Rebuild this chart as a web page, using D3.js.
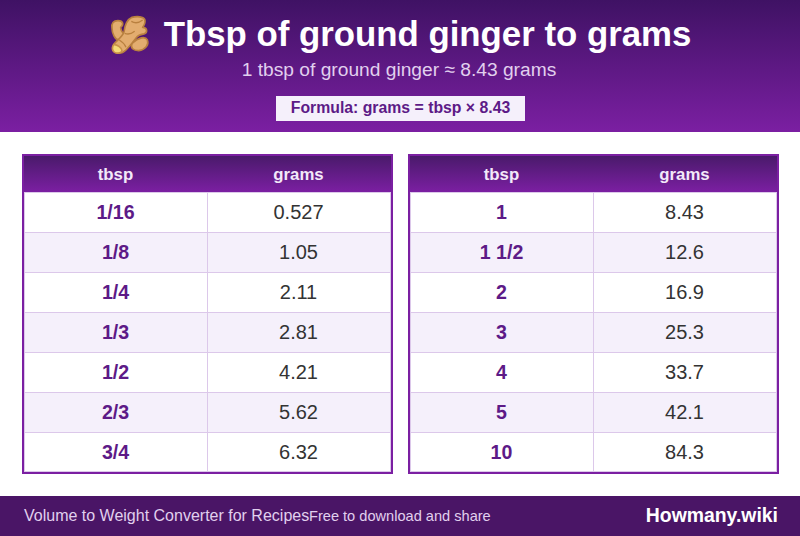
<!DOCTYPE html>
<html><head><meta charset="utf-8">
<script src="https://cdn.jsdelivr.net/npm/d3@7"></script>
<style>html,body{margin:0;padding:0;background:#fff}svg{display:block}text{font-family:"Liberation Sans",Arial,sans-serif}</style>
</head><body><svg id="c" width="800" height="536"></svg>
<script>
const titleText = "Tbsp of ground ginger to grams";
const subtitleText = "1 tbsp of ground ginger ≈ 8.43 grams";
const formulaText = "Formula: grams = tbsp × 8.43";
const columns = ["tbsp", "grams"];
const leftTbsp = ["1/16","1/8","1/4","1/3","1/2","2/3","3/4"];
const leftGrams = ["0.527","1.05","2.11","2.81","4.21","5.62","6.32"];
const rightTbsp = ["1","1 1/2","2","3","4","5","10"];
const rightGrams = ["8.43","12.6","16.9","25.3","33.7","42.1","84.3"];
const footerLeft = "Volume to Weight Converter for Recipes";
const footerMid = "Free to download and share";
const footerBrand = "Howmany.wiki";

const svg = d3.select("#c");
const defs = svg.append("defs");
function grad(id, a, b){
  const g = defs.append("linearGradient").attr("id",id).attr("x1",0).attr("y1",0).attr("x2",0).attr("y2",1);
  g.append("stop").attr("offset","0%").attr("stop-color",a);
  g.append("stop").attr("offset","100%").attr("stop-color",b);
}
grad("hdr0","#3f1264","#7b1fa2");
grad("th","#4a1a6b","#7b1fa2");

svg.append("rect").attr("width",800).attr("height",132).attr("fill","url(#hdr0)");

// ginger icon (viewBox is the 3x zoom of the region starting at x=90, y=0)
const ic = svg.append("g").attr("transform","translate(90,0) scale(0.3333)");
const st = {fill:"#e3ad6f",stroke:"#b9803f","stroke-width":5,"stroke-linejoin":"round"};
function p(d, o){ const e = ic.append("path").attr("d",d); Object.entries(Object.assign({},st,o||{})).forEach(([k,v])=>e.attr(k,v)); return e; }
p("M88 122 C74 118 66 100 66 84 C64 70 70 62 84 62 C100 62 102 74 92 82 C92 92 98 100 108 106 Z");
p("M126 130 C146 112 166 108 172 120 C178 134 166 150 146 152 C130 152 120 144 126 130 Z");
p("M72 132 C84 118 96 112 102 96 C104 80 108 60 126 52 C142 48 160 50 164 58 C168 68 162 76 158 82 C172 82 174 98 162 102 C150 104 146 104 140 112 C130 126 120 138 108 150 C94 164 76 162 70 150 C67 143 68 138 72 132 Z");
p("M71 134 C80 132 96 144 96 152 C94 160 78 162 72 156 C66 150 66 142 71 134 Z",{fill:"#f5dc78",stroke:"#c9924a"});
["M104 100 C114 104 124 102 134 94","M88 120 C98 126 104 132 108 142","M124 64 C134 70 148 68 158 60"].forEach(d=>p(d,{fill:"none","stroke-width":4}));

svg.append("text").attr("x",427.5).attr("y",46).attr("text-anchor","middle")
  .attr("font-size",34.8).attr("font-weight",700).attr("fill","#fff").text(titleText);
svg.append("text").attr("x",399).attr("y",76).attr("text-anchor","middle")
  .attr("font-size",19.2).attr("fill","#e1d0ee").text(subtitleText);
svg.append("rect").attr("x",276).attr("y",96).attr("width",249).attr("height",25).attr("fill","#f5f0fb");
svg.append("text").attr("x",400.5).attr("y",113).attr("text-anchor","middle")
  .attr("font-size",15.8).attr("font-weight",700).attr("fill","#5d1a87").text(formulaText);

function drawTable(x0, tbsp, grams){
  const rows = d3.range(tbsp.length);
  const y = d3.scaleBand().domain(rows).range([192.5,472.5]);
  const xs = d3.scaleBand().domain(columns).range([x0+2, x0+368]);
  const g = svg.append("g");
  g.append("rect").attr("x",x0+2).attr("y",156).attr("width",367).attr("height",36).attr("fill","url(#th)");
  g.selectAll("text.h").data(columns).join("text").attr("class","h")
    .attr("x",c=>xs(c)+xs.bandwidth()/2).attr("y",180).attr("text-anchor","middle")
    .attr("font-size",16.8).attr("font-weight",700).attr("fill","#f3e9f9").text(c=>c);
  g.selectAll("rect.r").data(rows).join("rect").attr("class","r")
    .attr("x",x0+2).attr("y",r=>y(r)).attr("width",367).attr("height",y.bandwidth())
    .attr("fill",r=>r%2?"#f5f0fb":"#fff");
  g.selectAll("line.r").data(rows).join("line").attr("class","r")
    .attr("x1",x0+2).attr("x2",x0+369).attr("y1",r=>y(r)).attr("y2",r=>y(r))
    .attr("stroke","#dcc8ea").attr("stroke-width",1);
  g.append("line").attr("x1",x0+2.5).attr("x2",x0+369).attr("y1",471.5).attr("y2",471.5).attr("stroke","#dcc8ea");
  [185.5,368.5,2.5].forEach(dx=>g.append("line").attr("x1",x0+dx).attr("x2",x0+dx).attr("y1",192).attr("y2",472).attr("stroke","#dcc8ea"));
  g.selectAll("text.a").data(rows).join("text").attr("class","a")
    .attr("x",xs("tbsp")+xs.bandwidth()/2).attr("y",r=>y(r)+26.5).attr("text-anchor","middle")
    .attr("font-size",19.6).attr("font-weight",700).attr("fill","#5d1a87").text(r=>tbsp[r]);
  g.selectAll("text.b").data(rows).join("text").attr("class","b")
    .attr("x",xs("grams")+xs.bandwidth()/2).attr("y",r=>y(r)+26.5).attr("text-anchor","middle")
    .attr("font-size",20).attr("fill","#333").text(r=>grams[r]);
  g.append("rect").attr("x",x0+1).attr("y",155).attr("width",369).attr("height",318)
    .attr("fill","none").attr("stroke","#7b1fa2").attr("stroke-width",2);
}
drawTable(22,leftTbsp,leftGrams);
drawTable(408,rightTbsp,rightGrams);

svg.append("rect").attr("y",496).attr("width",800).attr("height",40).attr("fill","#4a1566");
svg.append("text").attr("x",24).attr("y",521).attr("font-size",16).attr("fill","#e1d0ee").text(footerLeft);
svg.append("text").attr("x",309).attr("y",521).attr("font-size",14.6).attr("fill","#e1d0ee").text(footerMid);
svg.append("text").attr("x",778).attr("y",522).attr("text-anchor","end").attr("font-size",19.4).attr("font-weight",700).attr("fill","#fff").text(footerBrand);
</script></body></html>
